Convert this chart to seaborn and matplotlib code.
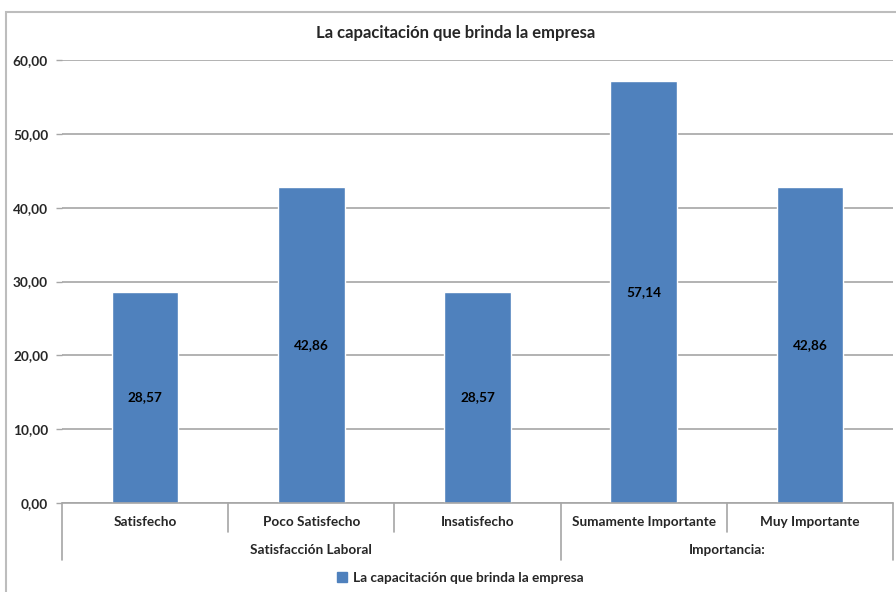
import matplotlib
matplotlib.use("Agg")
import matplotlib.pyplot as plt
from matplotlib.patches import Patch, Rectangle
import seaborn as sns
import pandas as pd

# Survey results (percent of respondents)
categories = ["Satisfecho", "Poco Satisfecho", "Insatisfecho",
              "Sumamente Importante", "Muy Importante"]
values = [28.57, 42.86, 28.57, 57.14, 42.86]
groups = ["Satisfacción Laboral", "Importancia:"]
group_sizes = [3, 2]
series_name = "La capacitación que brinda la empresa"
title = "La capacitación que brinda la empresa"
y_ticks = [0, 10, 20, 30, 40, 50, 60]

sns.set_theme(style="white")
plt.rcParams["font.family"] = ["Lato", "DejaVu Sans"]
plt.rcParams["font.weight"] = "bold"

BAR = "#4F81BD"
GRID = "#A6A6A6"
W, H = 896, 592
FS = 9.8

fig = plt.figure(figsize=(W / 100, H / 100), dpi=100)

# outer chart frame
fig.patches.append(Rectangle((6 / W, -0.1), 1.2, 1 - 12 / H + 0.1,
                             transform=fig.transFigure, fill=False,
                             edgecolor="#BDBDBD", linewidth=1.5))

left, right, top, bottom = 62, 893, 60, 503
ax = fig.add_axes([left / W, 1 - bottom / H, (right - left) / W, (bottom - top) / H])

df = pd.DataFrame({"categoria": categories, "valor": values})
sns.barplot(data=df, x="categoria", y="valor", color=BAR, width=0.4,
            saturation=1, ax=ax, zorder=3)

ax.set_xlim(-0.5, len(categories) - 0.5)
ax.set_ylim(0, 60)
ax.set_yticks(y_ticks)
ax.set_yticklabels([f"{v:.2f}".replace(".", ",") for v in y_ticks],
                   fontsize=FS, fontweight="bold")
ax.tick_params(axis="y", length=4, width=1, color=GRID, pad=6, left=True)
ax.set_xticks([])
ax.set_xlabel("")
ax.set_ylabel("")
for s in ["top", "right", "left", "bottom"]:
    ax.spines[s].set_visible(False)
ax.yaxis.grid(True, color=GRID, linewidth=1.2, zorder=0)
ax.set_axisbelow(True)

# data labels in the middle of each bar
for i, v in enumerate(values):
    ax.text(i, v / 2, f"{v:.2f}".replace(".", ","), ha="center", va="center",
            fontsize=FS, fontweight="bold", color="black", zorder=4)

# category axis: baseline, separators, category and group labels
trans = ax.get_xaxis_transform()
ax.plot([-0.5, len(categories) - 0.5], [0, 0], transform=trans, color=GRID,
        linewidth=1.2, clip_on=False, zorder=5)
short_y = -(532 - bottom) / (bottom - top)
long_y = -(560 - bottom) / (bottom - top)
boundaries = [0]
for n in group_sizes:
    boundaries.append(boundaries[-1] + n)
for k in range(len(categories) + 1):
    xk = k - 0.5
    yk = long_y if k in boundaries else short_y
    ax.plot([xk, xk], [0, yk], transform=trans, color=GRID, linewidth=1.2,
            clip_on=False)
for i, c in enumerate(categories):
    ax.text(i, -(522 - bottom) / (bottom - top), c, transform=trans,
            ha="center", va="center", fontsize=FS, fontweight="bold")
for g, a, b in zip(groups, boundaries[:-1], boundaries[1:]):
    ax.text((a + b - 1) / 2, -(550 - bottom) / (bottom - top), g,
            transform=trans, ha="center", va="center", fontsize=FS,
            fontweight="bold")

fig.text(456 / W, 1 - 33 / H, title, ha="center", va="center",
         fontsize=12, fontweight="bold")

fig.legend(handles=[Patch(facecolor=BAR, edgecolor=BAR, label=series_name)],
           loc="center", bbox_to_anchor=(460 / W, 1 - 578 / H), frameon=False,
           handlelength=0.8, handleheight=0.8, handletextpad=0.4,
           prop={"size": FS, "weight": "bold"})

fig.savefig("out.png", dpi=100)
